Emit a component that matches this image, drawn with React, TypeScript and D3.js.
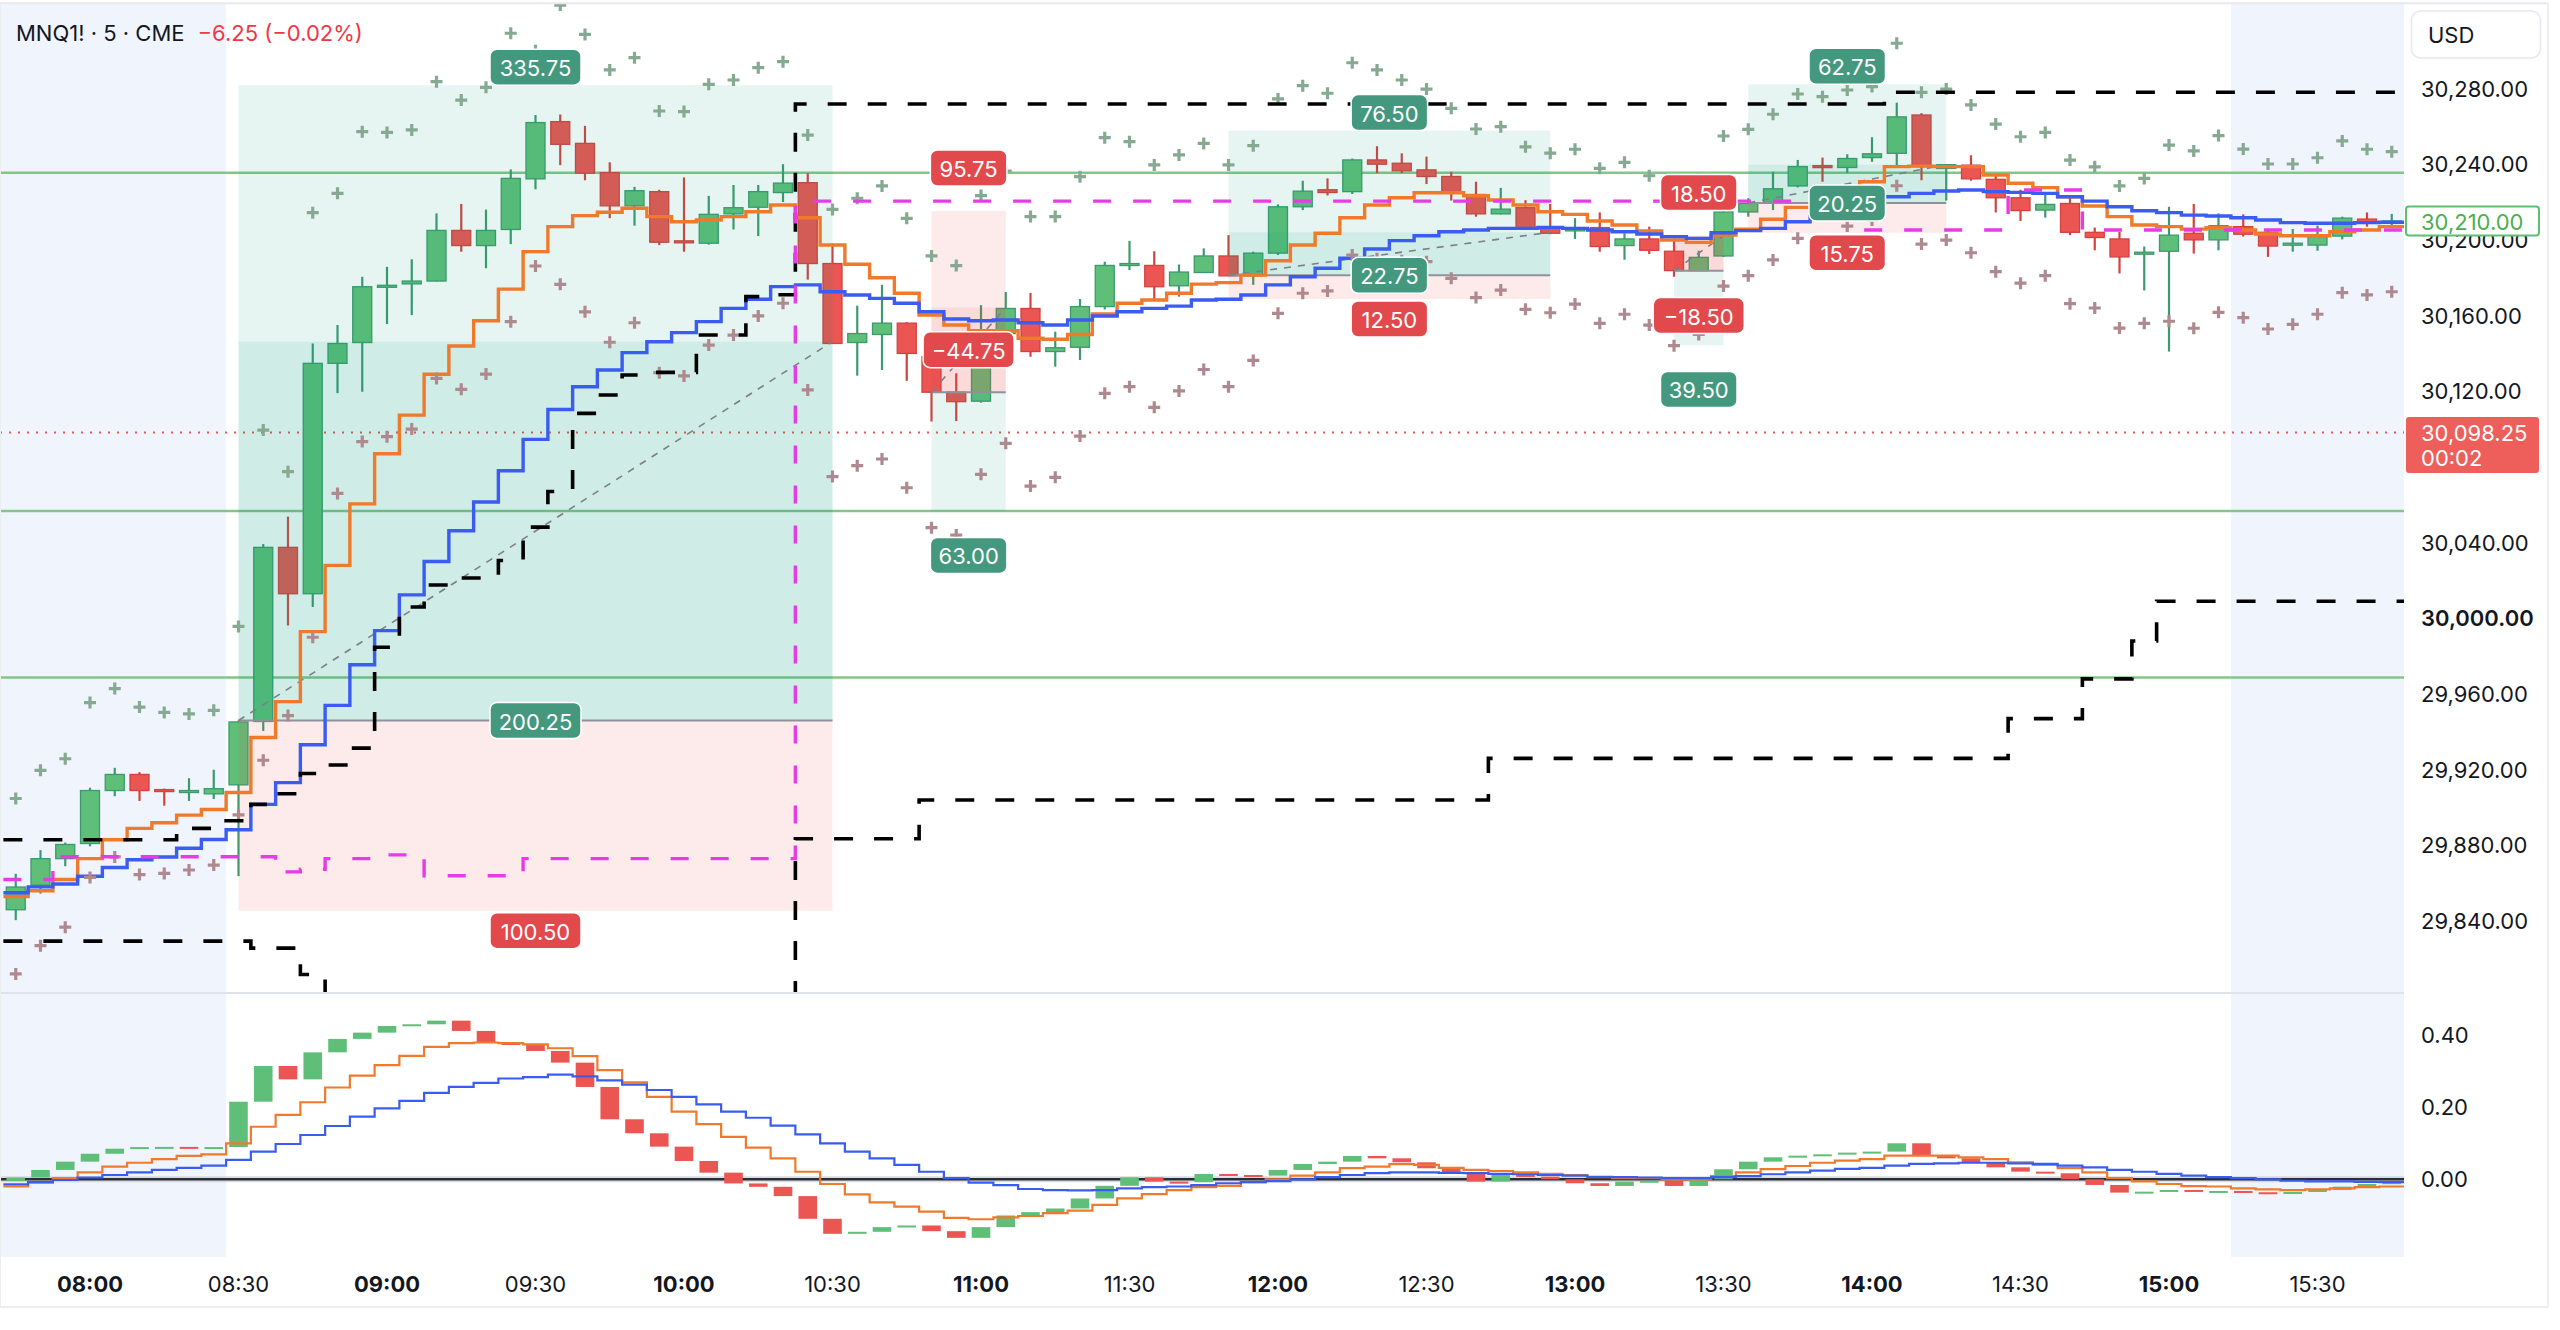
import React, { useEffect } from 'react';
import * as d3 from 'd3';

// bar 0 = 08:00, 5 minute bars, first bar is 07:45
const FIRST_BAR = -3;

const opens = [
  29846, 29859, 29873, 29881, 29909, 29917.5, 29909.5, 29908.5, 29907.25, 29912,
  29945.5, 30037.5, 30013, 30134.75, 30145.75, 30175.5, 30176.75, 30178.25, 30205, 30197,
  30205.5, 30232.25, 30262.5, 30251, 30235.5, 30218, 30225.5, 30199.5, 30198.25, 30213.75,
  30217.25, 30225, 30230.25, 30187.5, 30145.75, 30150, 30156, 30138.25, 30119.5, 30114.75,
  30150.5, 30163.75, 30141, 30143.25, 30164.75, 30186.75, 30186.5, 30175.75, 30182.75, 30191.5,
  30181, 30193, 30217.5, 30226.5, 30225.5, 30242.25, 30240.5, 30237, 30233.5, 30224,
  30213.75, 30217, 30206, 30204.75, 30206.5, 30197, 30200.5, 30194, 30183.75, 30191.5,
  30214.75, 30219.75, 30228.5, 30239.25, 30238.25, 30243.5, 30245.75, 30266, 30237.75, 30239.5,
  30232, 30222.25, 30215.75, 30219.25, 30204, 30200.5, 30192.75, 30194, 30203.5, 30200,
  30207, 30204, 30197.5, 30197.25, 30202, 30211, 30209,
];
const highs = [
  29865, 29877.5, 29881.5, 29910.5, 29921, 29918.75, 29910, 29915.5, 29920, 29946,
  30039.25, 30053.75, 30145.25, 30155, 30180.5, 30185.75, 30189.75, 30214, 30219, 30216,
  30237.25, 30266, 30266.25, 30260.25, 30241, 30228, 30226.5, 30233, 30223.25, 30229,
  30229, 30240, 30235.25, 30198, 30165.25, 30176.25, 30156.5, 30141, 30129.5, 30165.5,
  30172.5, 30172, 30151.5, 30168.75, 30188.5, 30199.5, 30194, 30187, 30195.5, 30202.5,
  30193.75, 30218.75, 30231.25, 30232.5, 30243, 30249.5, 30245.75, 30244, 30236, 30230.75,
  30227.5, 30221, 30219, 30211.5, 30214.5, 30203.5, 30207, 30200.75, 30194.25, 30215.5,
  30222, 30236, 30242.25, 30243.5, 30245.25, 30254.25, 30272.5, 30267, 30240, 30244.75,
  30234.75, 30226.5, 30223.75, 30222.75, 30206.5, 30204.25, 30196.5, 30217.5, 30219, 30214,
  30213.5, 30205.25, 30205.75, 30207.5, 30212.25, 30214.5, 30213.75,
];
const lows = [
  29840.5, 29854.5, 29869, 29879.5, 29906, 29903.5, 29901, 29903.5, 29904.5, 29863.75,
  29940.5, 29996.25, 30006, 30119, 30119.75, 30155.5, 30160.25, 30178, 30193.75, 30185,
  30197.75, 30226.75, 30239.5, 30231.5, 30211.5, 30207.5, 30197.25, 30193.75, 30197.5, 30205.5,
  30202, 30220, 30179, 30145, 30128.25, 30131.25, 30125.5, 30104, 30104.25, 30114,
  30149, 30138.25, 30133, 30136.5, 30163.25, 30184, 30168.25, 30170, 30182.5, 30181,
  30176.25, 30192, 30215.75, 30223.5, 30224.25, 30235.25, 30235.25, 30229.5, 30220.75, 30212.25,
  30213.5, 30205.25, 30203, 30200.5, 30193.75, 30189.5, 30192.5, 30180.5, 30183.5, 30191,
  30212.25, 30215.75, 30227.75, 30230.75, 30235.5, 30241.25, 30238.75, 30231.5, 30220.75, 30231.25,
  30214.5, 30210, 30211.75, 30202.5, 30194.5, 30182.25, 30173.25, 30141, 30192.75, 30194.5,
  30201.75, 30191, 30193.75, 30194.25, 30200.25, 30207, 30206.25,
];
const closes = [
  29858, 29873, 29880.5, 29909, 29917.5, 29909, 29909, 29909, 29910, 29945.25,
  30037.5, 30013, 30134.75, 30145.25, 30175.25, 30176, 30178.25, 30205, 30197, 30205,
  30232.5, 30262, 30250.5, 30235.25, 30218, 30226, 30198.75, 30199.25, 30213.5, 30217,
  30225.5, 30230, 30187.5, 30145.25, 30150.5, 30156, 30140, 30119.5, 30114.5, 30150.5,
  30163.75, 30141, 30143, 30164.75, 30186.5, 30187.5, 30175.25, 30183, 30191.5, 30181,
  30193, 30217.5, 30225.75, 30225, 30242.25, 30240, 30236.5, 30233.5, 30225, 30213.75,
  30216.25, 30206, 30203.5, 30206.5, 30196.5, 30200.5, 30194.5, 30183.75, 30190.75, 30214.75,
  30219.25, 30227, 30238.75, 30238.75, 30243, 30245.5, 30265, 30238.75, 30239.75, 30232.25,
  30222.25, 30215.5, 30218.75, 30204, 30201.25, 30191, 30193.5, 30202.5, 30200, 30207.5,
  30203, 30196.75, 30198.25, 30201.75, 30211.5, 30208.75, 30210,
];

// moving averages (orange fast, blue slow)
const fastMa = [
  29853, 29856, 29862, 29873, 29883, 29889, 29892, 29896, 29899, 29908,
  29937, 29956, 29993, 30028, 30060.5, 30087, 30107.4, 30129, 30143.9, 30157.3,
  30174, 30193.8, 30207, 30212.8, 30214.6, 30216.7, 30212.3, 30209.6, 30210.5, 30212.3,
  30214.9, 30218.4, 30211.7, 30197.3, 30187.1, 30180, 30171.8, 30160.3, 30155, 30152,
  30152, 30148, 30147.5, 30150, 30160.9, 30166.5, 30168.2, 30171.8, 30176.6, 30177.4,
  30181.4, 30189, 30197.3, 30203.5, 30211.7, 30218.4, 30222.3, 30224.9, 30224.9, 30223.3,
  30221.1, 30218.4, 30214.9, 30213.5, 30210, 30207.9, 30204.7, 30199.9, 30198.7, 30202.6,
  30205.6, 30210.9, 30217.2, 30217.5, 30224.6, 30230.7, 30238.7, 30239, 30238.7, 30238.7,
  30234.3, 30229.9, 30227.6, 30222.8, 30217.9, 30212.3, 30207.9, 30207, 30205.7, 30206.5,
  30205.2, 30203.1, 30202.2, 30202.2, 30204.3, 30205.2, 30207,
];
const slowMa = [
  29855, 29858.1, 29859.6, 29863.7, 29868.3, 29872.4, 29873.9, 29878.5, 29883.1, 29888.3,
  29901.7, 29913.2, 29933.2, 29954, 29975.5, 29993.5, 30012.4, 30030, 30046.3, 30061.5,
  30078, 30094.6, 30110.4, 30122.4, 30131.2, 30140.4, 30146.2, 30151, 30156.8, 30163.8,
  30168.6, 30175.3, 30176.2, 30172.6, 30170.9, 30169.1, 30166.5, 30162, 30158.2, 30157.3,
  30157.7, 30156.2, 30155, 30157.7, 30159.8, 30162, 30163.8, 30165, 30168.2, 30168.6,
  30170.9, 30176.2, 30180.5, 30185, 30190.3, 30195.2, 30199.6, 30202.2, 30204.3, 30205.2,
  30206.1, 30206.1, 30206.6, 30206.1, 30205.2, 30204.3, 30203.1, 30201.7, 30200.8, 30203.8,
  30204.9, 30206.1, 30209.6, 30212.3, 30216.7, 30220.2, 30222.8, 30224.6, 30225.8, 30226.4,
  30225.5, 30225.1, 30224.6, 30222.8, 30220.5, 30217.5, 30215.4, 30214.4, 30213.1, 30212.6,
  30211.7, 30210.5, 30209.1, 30208.8, 30208.8, 30209.1, 30209.3,
];

// band crosses
const bandUpper = [
  29904.8, 29919.7, 29925.8, 29955.5, 29962.9, 29953.1, 29950.3, 29949.5, 29951.4, 29995.7,
  30099.5, 30077.5, 30214.4, 30224.6, 30257.2, 30256.8, 30258.1, 30283.6, 30273.9, 30280.6,
  30309.2, 30300, 30324.1, 30308.6, 30289.8, 30296.3, 30268.1, 30267.8, 30282.2, 30284.5,
  30291, 30294.2, 30255.4, 30216.1, 30222, 30228.5, 30211.4, 30191.5, 30186.4, 30223.4,
  30236.4, 30212.3, 30212.3, 30233.4, 30254, 30251.9, 30239.6, 30244.9, 30251, 30239.6,
  30249.8, 30274.5, 30281.5, 30277.5, 30293.6, 30289.8, 30284.5, 30279.7, 30269.5, 30258.6,
  30259.8, 30249.2, 30245.8, 30247.9, 30237.8, 30241, 30233.9, 30228, 30232, 30254.9,
  30258.4, 30266.4, 30277.1, 30275.7, 30279.2, 30281, 30303.9, 30278, 30279.7, 30271.3,
  30261.2, 30254.5, 30256.8, 30242.2, 30238.6, 30228.5, 30232.5, 30250.1, 30247, 30255.1,
  30248, 30240.1, 30240.1, 30243.4, 30252.3, 30247.9, 30246.6,
];
const bandLower = [
  29812.1, 29827, 29836.8, 29863.1, 29873.9, 29864.6, 29865.2, 29867, 29869.6, 29896.1,
  29925, 29948.6, 29990, 30066, 30093.4, 30096, 30100, 30126.8, 30121, 30129.1,
  30156.8, 30186.2, 30176.5, 30162, 30145.9, 30156.2, 30129.8, 30128.1, 30144.4, 30149.7,
  30159.8, 30166.5, 30120.7, 30074.9, 30080.7, 30084.2, 30069, 30047.9, 30044, 30076.1,
  30092.5, 30069.9, 30074.5, 30096.3, 30118.9, 30122.4, 30111.5, 30120.2, 30131.5, 30122.4,
  30136.3, 30161.2, 30171.8, 30173, 30192, 30190, 30189, 30188.5, 30179.7, 30169.5,
  30173.5, 30163.3, 30161.5, 30166.1, 30155.9, 30160.7, 30155, 30144.1, 30150, 30175.6,
  30181.1, 30189.4, 30200.8, 30198, 30207.3, 30210.5, 30228.6, 30197.8, 30199.9, 30193.2,
  30183.2, 30177.1, 30181.1, 30166.3, 30164, 30153.4, 30155.9, 30157, 30153.3, 30161.7,
  30158.9, 30152.9, 30155.4, 30160.7, 30172.1, 30170.9, 30172.6,
];

// black dashed trailing lines
const trailUpper = [
  29883, 29883, 29883, 29883, 29883, 29883, 29883, 29889, 29889, 29893,
  29901.7, 29907.3, 29918, 29922.5, 29931.4, 29984.7, 30006, 30017.6, 30021.3, 30021.3,
  30030.6, 30048.2, 30067, 30108.3, 30118, 30128.6, 30130, 30130, 30149.7, 30149.7,
  30170, 30171, 30271.8, 30271.8, 30271.8, 30271.8, 30271.8, 30271.8, 30271.8, 30271.8,
  30271.8, 30271.8, 30271.8, 30271.8, 30271.8, 30271.8, 30271.8, 30271.8, 30271.8, 30271.8,
  30271.8, 30271.8, 30271.8, 30271.8, 30271.8, 30271.8, 30271.8, 30271.8, 30271.8, 30271.8,
  30271.8, 30271.8, 30271.8, 30271.8, 30271.8, 30271.8, 30271.8, 30271.8, 30271.8, 30271.8,
  30271.8, 30271.8, 30271.8, 30271.8, 30271.8, 30271.8, 30278, 30278, 30278, 30278,
  30278, 30278, 30278, 30278, 30278, 30278, 30278, 30278, 30278, 30278,
  30278, 30278, 30278, 30278, 30278, 30278, 30278,
];
const trailLower = [
  29829.4, 29829.4, 29829.4, 29829.4, 29829.4, 29829.4, 29829.4, 29829.4, 29829.4, 29829.4,
  29825.7, 29825.7, 29811.8, 29780, 29780, 29780, 29780, 29780, 29780, 29780,
  29780, 29780, 29780, 29780, 29780, 29780, 29780, 29780, 29780, 29780,
  29780, 29780, 29883.5, 29883.5, 29883.5, 29883.5, 29883.5, 29904, 29904, 29904,
  29904, 29904, 29904, 29904, 29904, 29904, 29904, 29904, 29904, 29904,
  29904, 29904, 29904, 29904, 29904, 29904, 29904, 29904, 29904, 29904,
  29926, 29926, 29926, 29926, 29926, 29926, 29926, 29926, 29926, 29926,
  29926, 29926, 29926, 29926, 29926, 29926, 29926, 29926, 29926, 29926,
  29926, 29947, 29947, 29947, 29968, 29968, 29988, 30009, 30009, 30009,
  30009, 30009, 30009, 30009, 30009, 30009, 30009,
];
// magenta dashed stop line
const stopLine = [
  29862, 29862, 29874, 29874, 29874, 29874, 29874, 29874, 29874, 29874,
  29874, 29866, 29867.4, 29873, 29873, 29875, 29875, 29864, 29864, 29864,
  29864, 29873, 29873, 29873, 29873, 29873, 29873, 29873, 29873, 29873,
  29873, 29873, 30220.5, 30220.5, 30220.5, 30220.5, 30220.5, 30220.5, 30220.5, 30220.5,
  30220.5, 30220.5, 30220.5, 30220.5, 30220.5, 30220.5, 30220.5, 30220.5, 30220.5, 30220.5,
  30220.5, 30220.5, 30220.5, 30220.5, 30220.5, 30220.5, 30220.5, 30220.5, 30220.5, 30220.5,
  30220.5, 30220.5, 30220.5, 30220.5, 30220.5, 30220.5, 30220.5, 30220.5, 30220.5, 30220.5,
  30220.5, 30220.5, 30220.5, 30220.5, 30220.5, 30205.2, 30205.2, 30205.2, 30205.2, 30205.2,
  30205.2, 30226.4, 30226.4, 30226.4, 30205.2, 30205.2, 30205.2, 30205.2, 30205.2, 30205.2,
  30205.2, 30205.2, 30205.2, 30205.2, 30205.2, 30205.2, 30205.2,
];

const levelLines = [30235.5, 30056.75, 29968.75];
const lastPrice = 30098.25;
const currentClose = 30210;

// oscillator pane
const oscHist = [
  0.005, 0.026, 0.049, 0.071, 0.085, 0.0895, 0.09, 0.085, 0.0896, 0.2156,
  0.3147, 0.2776, 0.3527, 0.39, 0.4074, 0.4259, 0.4306, 0.4407, 0.4121, 0.3796,
  0.3731, 0.3565, 0.3241, 0.2565, 0.1667, 0.1278, 0.0907, 0.0509, 0.0185, -0.0115,
  -0.0208, -0.0467, -0.1097, -0.1514, -0.1458, -0.1329, -0.1283, -0.1441, -0.1626, -0.1329,
  -0.1005, -0.0912, -0.0811, -0.0533, -0.0181, 0.0056, -0.0065, -0.008, 0.0148, 0.012,
  0.0102, 0.026, 0.0426, 0.049, 0.0648, 0.0583, 0.0472, 0.0306, 0.0185, -0.0065,
  0.012, 0.0074, 0.0, -0.011, -0.0185, -0.0065, -0.004, -0.0185, 0.0, 0.0278,
  0.049, 0.0611, 0.0657, 0.0694, 0.0741, 0.0769, 0.1, 0.0657, 0.0583, 0.0463,
  0.0333, 0.0213, 0.0167, 0.0, -0.0157, -0.037, -0.0343, -0.0296, -0.0343, -0.0324,
  -0.036, -0.038, -0.0352, -0.0296, -0.0204, -0.013, -0.008,
];
const oscFast = [
  -0.02, -0.009, 0.003, 0.019, 0.035, 0.046, 0.056, 0.065, 0.069, 0.1,
  0.146, 0.179, 0.214, 0.255, 0.288, 0.317, 0.343, 0.368, 0.378, 0.38,
  0.378, 0.375, 0.364, 0.342, 0.303, 0.269, 0.229, 0.188, 0.153, 0.118,
  0.088, 0.058, 0.021, -0.013, -0.042, -0.064, -0.076, -0.09, -0.107, -0.111,
  -0.106, -0.102, -0.094, -0.087, -0.071, -0.053, -0.041, -0.03, -0.022, -0.018,
  -0.008, 0.0, 0.01, 0.019, 0.031, 0.035, 0.042, 0.04, 0.032, 0.026,
  0.023, 0.019, 0.015, 0.012, 0.006, 0.003, 0.003, 0.0, 0.0, 0.009,
  0.019, 0.028, 0.037, 0.046, 0.052, 0.056, 0.066, 0.066, 0.066, 0.061,
  0.056, 0.047, 0.04, 0.031, 0.019, 0.003, -0.006, -0.013, -0.019, -0.02,
  -0.025, -0.028, -0.03, -0.028, -0.025, -0.022, -0.02,
];
const oscSlow = [
  -0.014, -0.008, -0.002, 0.005, 0.012, 0.019, 0.026, 0.032, 0.038, 0.054,
  0.077, 0.098, 0.123, 0.148, 0.174, 0.197, 0.218, 0.24, 0.257, 0.268,
  0.28, 0.284, 0.291, 0.286, 0.275, 0.263, 0.248, 0.229, 0.208, 0.188,
  0.171, 0.149, 0.125, 0.1, 0.077, 0.058, 0.04, 0.021, 0.003, -0.009,
  -0.016, -0.027, -0.03, -0.031, -0.03, -0.025, -0.022, -0.02, -0.016, -0.011,
  -0.008, -0.005, 0.0, 0.006, 0.012, 0.017, 0.019, 0.019, 0.018, 0.017,
  0.015, 0.014, 0.012, 0.01, 0.007, 0.006, 0.005, 0.003, 0.003, 0.006,
  0.009, 0.014, 0.019, 0.024, 0.029, 0.032, 0.038, 0.043, 0.044, 0.046,
  0.046, 0.044, 0.043, 0.038, 0.033, 0.026, 0.021, 0.015, 0.01, 0.006,
  0.003, 0.0, -0.004, -0.006, -0.006, -0.007, -0.008,
];

// position tools (bar numbers, prices)
const positions = [
  { side: 'long', from: 6, to: 30, entry: 29946, target: 30281.75, stop: 29845.5, close: 30146.25, pnlAt: 29946 },
  { side: 'short', from: 34, to: 37, entry: 30119.5, target: 30056.5, stop: 30215.25, close: 30164.25, pnlAt: 30142 },
  { side: 'long', from: 46, to: 59, entry: 30181.25, target: 30257.75, stop: 30168.75, close: 30204, pnlAt: 30181.25 },
  { side: 'short', from: 64, to: 66, entry: 30183.75, target: 30144.25, stop: 30202.25, close: 30202.25, pnlAt: 30160 },
  { side: 'long', from: 67, to: 75, entry: 30219.5, target: 30282.25, stop: 30203.75, close: 30239.75, pnlAt: 30219.5 },
];

const timeTicks = ['08:00', '08:30', '09:00', '09:30', '10:00', '10:30', '11:00', '11:30',
  '12:00', '12:30', '13:00', '13:30', '14:00', '14:30', '15:00', '15:30'];
const priceTicks = d3.range(29840, 30281, 40);
const oscTicks = [0, 0.2, 0.4];

const W = 2560;
const H = 1330;
const BAR = 24.75;
const PLOT_R = 2404;
const MAIN_TOP = 4;
const MAIN_BOTTOM = 993;
const OSC_BOTTOM = 1257;
const FONT = 'Inter, "Noto Sans", "DejaVu Sans", sans-serif';
const TEXT = '#131722';
const UP = '#5fbf79';
const UP_LINE = '#3c9a6e';
const DOWN = '#eb5552';
const DOWN_LINE = '#d24340';
const ORANGE = '#f07a2b';
const BLUE = '#3a5cf0';
const MAGENTA = '#e63ce6';
const LABEL_GREEN = '#43987e';
const LABEL_RED = '#e2494c';

const x = d3.scaleLinear().domain([0, 93]).range([90, 90 + 93 * BAR]);
const y = d3.scaleLinear().domain([29840, 30280]).range([921.1, 88.5]);
const yo = d3.scaleLinear().domain([0, 0.4]).range([1179.3, 1035.3]);

const barOf = (i: number) => i + FIRST_BAR;
const fmtPrice = d3.format(',.2f');
const fmtAmt = (v: number) => (v < 0 ? '\u2212' : '') + Math.abs(v).toFixed(2);

const stepPath = (vals: number[], sc: (v: number) => number) => {
  const pts: [number, number][] = [];
  vals.forEach((v, i) => {
    const cx = x(barOf(i));
    pts.push([cx - BAR / 2, sc(v)], [cx + BAR / 2, sc(v)]);
  });
  return d3.line()(pts) || '';
};

const Label = ({ cx, cy, text, fill }: { cx: number; cy: number; text: string; fill: string }) => {
  const w = text.length * 14.5 + 4;
  return (
    <g>
      <rect x={cx - w / 2} y={cy - 18} width={w} height={36} rx={7} fill={fill} stroke="#fff" strokeWidth={1.5} />
      <text x={cx} y={cy + 1} textAnchor="middle" dominantBaseline="central" fill="#fff" fontSize={22} fontFamily={FONT}>
        {text}
      </text>
    </g>
  );
};

const App: React.FC = () => {
  useEffect(() => {
    document.body.style.margin = '0';
    document.body.style.overflow = 'hidden';
  }, []);

  const bars = d3.range(opens.length);
  const lastBoxTop = y(lastPrice) - 15.5;
  const lastBoxBottom = lastBoxTop + 56;
  // the last-price tag hides the tick label underneath it
  const visibleTicks = priceTicks.filter((p) => y(p) < lastBoxTop || y(p) > lastBoxBottom);

  return (
    <svg width={W} height={H} viewBox={`0 0 ${W} ${H}`} style={{ position: 'absolute', left: 0, top: 0, display: 'block', background: '#fff' }}>
      <defs>
        <clipPath id="mainClip"><rect x={0} y={MAIN_TOP} width={PLOT_R} height={MAIN_BOTTOM - MAIN_TOP} /></clipPath>
        <clipPath id="oscClip"><rect x={0} y={MAIN_BOTTOM + 1} width={PLOT_R} height={OSC_BOTTOM - MAIN_BOTTOM - 1} /></clipPath>
      </defs>
      <rect x={0} y={0} width={W} height={H} fill="#fff" />

      {/* session shading */}
      <rect x={0} y={MAIN_TOP} width={x(5.5)} height={OSC_BOTTOM - MAIN_TOP} fill="#f0f5fd" />
      <rect x={x(86.5)} y={MAIN_TOP} width={PLOT_R - x(86.5)} height={OSC_BOTTOM - MAIN_TOP} fill="#f0f5fd" />

      {/* main pane */}
      <g clipPath="url(#mainClip)">
        {levelLines.map((p) => (
          <line key={p} x1={0} x2={PLOT_R} y1={y(p)} y2={y(p)} stroke="#86c58a" strokeWidth={2.6} />
        ))}
        <line x1={0} x2={PLOT_R} y1={y(lastPrice)} y2={y(lastPrice)} stroke="#ef5350" strokeWidth={2} strokeDasharray="2 7" />

        {bars.map((i) => {
          const up = closes[i] >= opens[i];
          const cx = x(barOf(i));
          const top = y(Math.max(opens[i], closes[i]));
          const bot = y(Math.min(opens[i], closes[i]));
          return (
            <g key={i}>
              <line x1={cx} x2={cx} y1={y(highs[i])} y2={y(lows[i])} stroke={up ? UP_LINE : DOWN_LINE} strokeWidth={2.2} />
              <rect x={cx - 9.5} y={top} width={19} height={Math.max(bot - top, 2)} fill={up ? UP : DOWN} stroke={up ? UP_LINE : DOWN_LINE} strokeWidth={1.3} />
            </g>
          );
        })}

        {/* position tools */}
        {positions.map((p, n) => {
          const x0 = x(p.from);
          const x1 = x(p.to);
          const band = (a: number, b: number, fill: string, key: string) => (
            <rect key={key} x={x0} y={y(Math.max(a, b))} width={x1 - x0} height={Math.abs(y(a) - y(b))} fill={fill} />
          );
          const pnl = p.side === 'long' ? p.close - p.entry : p.entry - p.close;
          return (
            <g key={n}>
              {band(p.entry, p.target, 'rgba(8,153,129,0.1)', 't')}
              {band(p.entry, p.stop, 'rgba(235,70,70,0.11)', 's')}
              {band(p.entry, p.close, pnl >= 0 ? 'rgba(8,153,129,0.1)' : 'rgba(235,70,70,0.1)', 'c')}
              <line x1={x0} x2={x1} y1={y(p.entry)} y2={y(p.entry)} stroke="#8f929b" strokeWidth={2} />
              <line x1={x0} x2={x1} y1={y(p.entry)} y2={y(p.close)} stroke="#7c7f88" strokeWidth={1.6} strokeDasharray="7 7" />
            </g>
          );
        })}

        <path d={stepPath(fastMa, y)} fill="none" stroke={ORANGE} strokeWidth={3.4} />
        <path d={stepPath(slowMa, y)} fill="none" stroke={BLUE} strokeWidth={3.4} />

        {bars.map((i) => {
          const cx = x(barOf(i));
          const u = y(bandUpper[i]);
          const l = y(bandLower[i]);
          return (
            <g key={`c${i}`} strokeWidth={3.2}>
              <path d={`M${cx - 6},${u}H${cx + 6}M${cx},${u - 6}V${u + 6}`} stroke="#86a992" />
              <path d={`M${cx - 6},${l}H${cx + 6}M${cx},${l - 6}V${l + 6}`} stroke="#ae8990" />
            </g>
          );
        })}

        <path d={stepPath(trailUpper, y)} fill="none" stroke="#000" strokeWidth={3.6} strokeDasharray="19 21" />
        <path d={stepPath(trailLower, y)} fill="none" stroke="#000" strokeWidth={3.6} strokeDasharray="19 21" />
        <path d={stepPath(stopLine, y)} fill="none" stroke={MAGENTA} strokeWidth={3.4} strokeDasharray="18 22" />
      </g>

      {/* position labels */}
      {positions.map((p, n) => {
        const cx = (x(p.from) + x(p.to)) / 2;
        const long = p.side === 'long';
        const tgt = Math.abs(p.target - p.entry);
        const stp = Math.abs(p.stop - p.entry);
        const pnl = long ? p.close - p.entry : p.entry - p.close;
        return (
          <g key={`l${n}`}>
            <Label cx={cx} cy={long ? y(p.target) - 18 : y(p.target) + 44} text={fmtAmt(tgt)} fill={LABEL_GREEN} />
            <Label cx={cx} cy={long ? y(p.stop) + 20 : y(p.stop) - 43} text={fmtAmt(stp)} fill={LABEL_RED} />
            <Label cx={cx} cy={y(p.pnlAt)} text={fmtAmt(pnl)} fill={pnl >= 0 ? LABEL_GREEN : LABEL_RED} />
          </g>
        );
      })}

      {/* oscillator pane */}
      <line x1={0} x2={PLOT_R} y1={MAIN_BOTTOM} y2={MAIN_BOTTOM} stroke="#e0e3eb" strokeWidth={2} />
      <g clipPath="url(#oscClip)">
        <line x1={0} x2={PLOT_R} y1={yo(0)} y2={yo(0)} stroke="#c3c5cc" strokeWidth={6} opacity={0.6} />
        <line x1={0} x2={PLOT_R} y1={yo(0)} y2={yo(0)} stroke="#2a2e39" strokeWidth={2.4} />
        {bars.map((i) => {
          const prev = i === 0 ? -0.005 : oscHist[i - 1];
          const cur = oscHist[i];
          const top = yo(Math.max(prev, cur));
          const h = Math.max(Math.abs(yo(prev) - yo(cur)), 2);
          return (
            <rect key={`h${i}`} x={x(barOf(i)) - 9.3} y={top} width={18.6} height={h} fill={cur >= prev ? UP : DOWN} />
          );
        })}
        <path d={stepPath(oscFast, yo)} fill="none" stroke={ORANGE} strokeWidth={2.2} />
        <path d={stepPath(oscSlow, yo)} fill="none" stroke={BLUE} strokeWidth={2.2} />
      </g>

      {/* price scale */}
      <rect x={PLOT_R} y={0} width={W - PLOT_R} height={H} fill="#fff" />
      {visibleTicks.map((p) => (
        <text key={p} x={2421} y={y(p)} dominantBaseline="central" fontSize={22} fontFamily={FONT} fill={TEXT}
          fontWeight={p % 1000 === 0 ? 600 : 400}>
          {fmtPrice(p)}
        </text>
      ))}
      {oscTicks.map((v) => (
        <text key={v} x={2421} y={yo(v)} dominantBaseline="central" fontSize={22} fontFamily={FONT} fill={TEXT}>
          {v.toFixed(2)}
        </text>
      ))}
      <rect x={2406} y={y(currentClose) - 14.5} width={133} height={29} rx={3} fill="#fff" stroke="#5cbf73" strokeWidth={2} />
      <text x={2421} y={y(currentClose) + 1} dominantBaseline="central" fontSize={22} fontFamily={FONT} fill="#4caf50">
        {fmtPrice(currentClose)}
      </text>
      <rect x={2406} y={lastBoxTop} width={133} height={56} rx={3} fill="#ee5e5a" />
      <text x={2421} y={y(lastPrice) + 1} dominantBaseline="central" fontSize={22} fontFamily={FONT} fill="#fff">
        {fmtPrice(lastPrice)}
      </text>
      <text x={2421} y={y(lastPrice) + 26} dominantBaseline="central" fontSize={22} fontFamily={FONT} fill="#fff">
        00:02
      </text>
      <rect x={2411.5} y={11} width={129} height={47} rx={9} fill="#fff" stroke="#e6e8ee" strokeWidth={1.5} />
      <text x={2428} y={35} dominantBaseline="central" fontSize={22} fontFamily={FONT} fill={TEXT}>USD</text>

      {/* time scale */}
      {timeTicks.map((t) => {
        const [hh, mm] = t.split(':').map(Number);
        const b = (hh * 60 + mm - 480) / 5;
        return (
          <text key={t} x={x(b)} y={1284} textAnchor="middle" dominantBaseline="central" fontSize={22}
            fontFamily={FONT} fill={TEXT} fontWeight={mm === 0 ? 700 : 400}>
            {t}
          </text>
        );
      })}

      {/* frame */}
      <line x1={0} x2={2548} y1={3.3} y2={3.3} stroke="#e8e9ee" strokeWidth={2} />
      <line x1={2548} x2={2548} y1={3} y2={1307} stroke="#eceef2" strokeWidth={2} />
      <line x1={0} x2={2548} y1={1307} y2={1307} stroke="#eceef2" strokeWidth={2} />
      <line x1={0.5} x2={0.5} y1={3} y2={1307} stroke="#eceef2" strokeWidth={1} />

      {/* legend */}
      <text x={16} y={33} dominantBaseline="central" fontSize={22} fontFamily={FONT} fill={TEXT}>
        MNQ1! · 5 · CME
        <tspan dx={13} fill="#f23645">−6.25 (−0.02%)</tspan>
      </text>
    </svg>
  );
};

export default App;
